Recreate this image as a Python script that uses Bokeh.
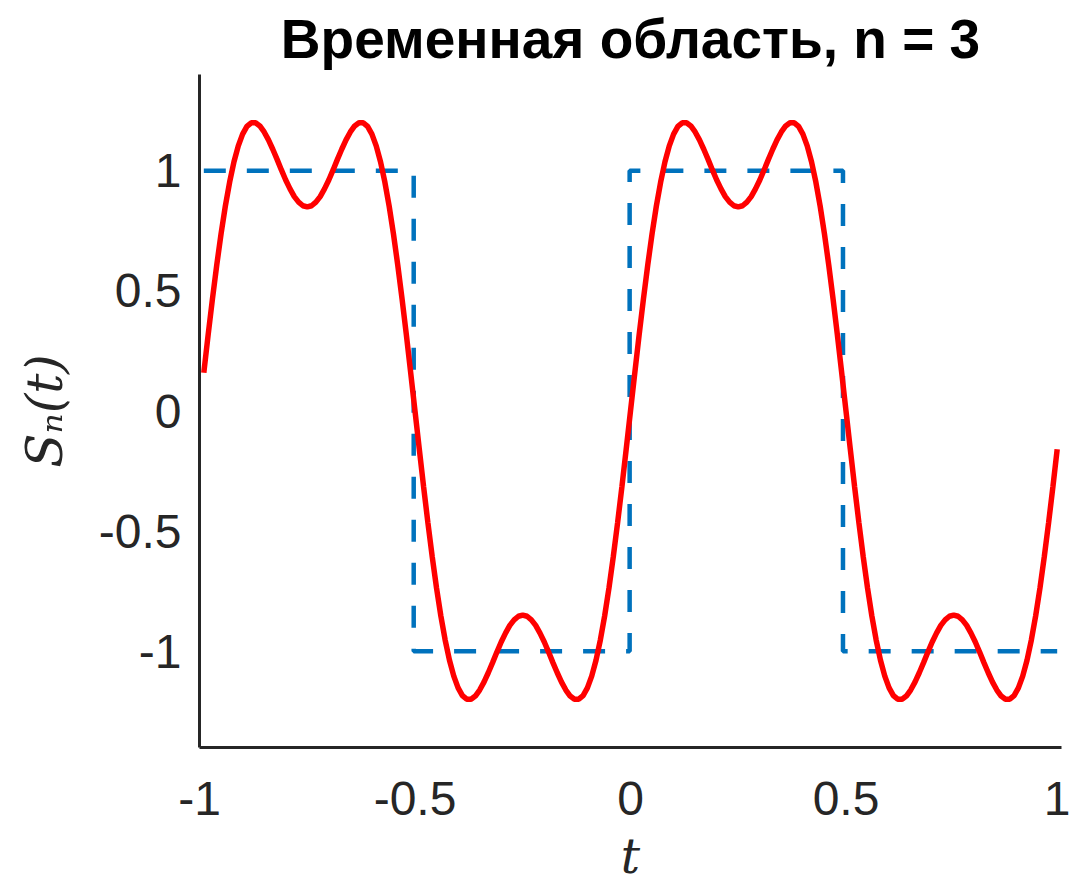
import numpy as np
from bokeh.plotting import figure
from bokeh.models import Range1d, FixedTicker
from bokeh.embed import file_html
from bokeh.resources import INLINE

# ---- data ----
title_text = "Временная область, n = 3"
x_ticks = [-1, -0.5, 0, 0.5, 1]
x_tick_labels = {-1: "-1", -0.5: "-0.5", 0: "0", 0.5: "0.5", 1: "1"}
y_ticks = [-1, -0.5, 0, 0.5, 1]
y_tick_labels = {-1: "-1", -0.5: "-0.5", 0: "0", 0.5: "0.5", 1: "1"}

# partial Fourier sum S_n(t), sampled every 0.01 from t = -0.99 to 0.99
red_t = np.linspace(-0.99, 0.99, 199)
red_v = [
    0.159, 0.316, 0.466, 0.607, 0.737, 0.853, 0.953, 1.037, 1.103, 1.152,
    1.184, 1.199, 1.199, 1.186, 1.161, 1.128, 1.089, 1.047, 1.003, 0.961,
    0.924, 0.892, 0.869, 0.854, 0.849, 0.854, 0.869, 0.892, 0.924, 0.961,
    1.003, 1.047, 1.089, 1.128, 1.161, 1.186, 1.199, 1.199, 1.184, 1.152,
    1.103, 1.037, 0.953, 0.853, 0.737, 0.607, 0.466, 0.316, 0.159, 0.0,
    -0.159, -0.316, -0.466, -0.607, -0.737, -0.853, -0.953, -1.037, -1.103, -1.152,
    -1.184, -1.199, -1.199, -1.186, -1.161, -1.128, -1.089, -1.047, -1.003, -0.961,
    -0.924, -0.892, -0.869, -0.854, -0.849, -0.854, -0.869, -0.892, -0.924, -0.961,
    -1.003, -1.047, -1.089, -1.128, -1.161, -1.186, -1.199, -1.199, -1.184, -1.152,
    -1.103, -1.037, -0.953, -0.853, -0.737, -0.607, -0.466, -0.316, -0.159, 0.0,
    0.159, 0.316, 0.466, 0.607, 0.737, 0.853, 0.953, 1.037, 1.103, 1.152,
    1.184, 1.199, 1.199, 1.186, 1.161, 1.128, 1.089, 1.047, 1.003, 0.961,
    0.924, 0.892, 0.869, 0.854, 0.849, 0.854, 0.869, 0.892, 0.924, 0.961,
    1.003, 1.047, 1.089, 1.128, 1.161, 1.186, 1.199, 1.199, 1.184, 1.152,
    1.103, 1.037, 0.953, 0.853, 0.737, 0.607, 0.466, 0.316, 0.159, 0.0,
    -0.159, -0.316, -0.466, -0.607, -0.737, -0.853, -0.953, -1.037, -1.103, -1.152,
    -1.184, -1.199, -1.199, -1.186, -1.161, -1.128, -1.089, -1.047, -1.003, -0.961,
    -0.924, -0.892, -0.869, -0.854, -0.849, -0.854, -0.869, -0.892, -0.924, -0.961,
    -1.003, -1.047, -1.089, -1.128, -1.161, -1.186, -1.199, -1.199, -1.184, -1.152,
    -1.103, -1.037, -0.953, -0.853, -0.737, -0.607, -0.466, -0.316, -0.159,
]

# ideal square wave (dashed)
sq_t = [-0.99, -0.503, -0.503, -0.002, -0.002, 0.493, 0.493, 0.99]
sq_v = [1, 1, -1, -1, 1, 1, -1, -1]

AX = "#262626"

p = figure(width=1070, height=888, output_backend="svg", toolbar_location=None,
           x_range=Range1d(-1, 1), y_range=Range1d(-1.4, 1.4),
           min_border_left=199, min_border_right=9, min_border_top=73,
           min_border_bottom=141)
p.title.text = title_text
p.title.text_font = "Liberation Sans"
p.title.text_font_size = "55px"
p.title.text_font_style = "bold"
p.title.text_color = "black"
p.title.align = "center"
p.title.offset = 0

p.outline_line_color = None
p.grid.grid_line_color = None
p.background_fill_color = "white"
p.border_fill_color = "white"

p.line(sq_t, sq_v, line_color="#0072BD", line_width=4.5, line_dash="22 21")
p.line(red_t, red_v, line_color="#FF0000", line_width=5.5)

for ax, ticks, labels in ((p.xaxis[0], x_ticks, x_tick_labels),
                          (p.yaxis[0], y_ticks, y_tick_labels)):
    ax.ticker = FixedTicker(ticks=ticks)
    ax.major_label_overrides = labels
    ax.major_tick_line_color = None
    ax.minor_tick_line_color = None
    ax.axis_line_color = AX
    ax.axis_line_width = 3
    ax.major_label_text_font = "Liberation Sans"
    ax.major_label_text_font_size = "48px"
    ax.major_label_text_color = AX
    ax.axis_label_text_font = "DejaVu Serif"
    ax.axis_label_text_font_style = "italic"
    ax.axis_label_text_color = AX

p.xaxis.axis_label = "t"
p.xaxis.axis_label_text_font_size = "48px"
p.xaxis.major_label_standoff = 28
p.xaxis.axis_label_standoff = 10
p.yaxis.axis_label = "Sₙ(t)"
p.yaxis.axis_label_text_font_size = "50px"
p.yaxis.major_label_standoff = 12
p.yaxis.axis_label_standoff = 22

open("out.html", "w").write(file_html(p, INLINE))
